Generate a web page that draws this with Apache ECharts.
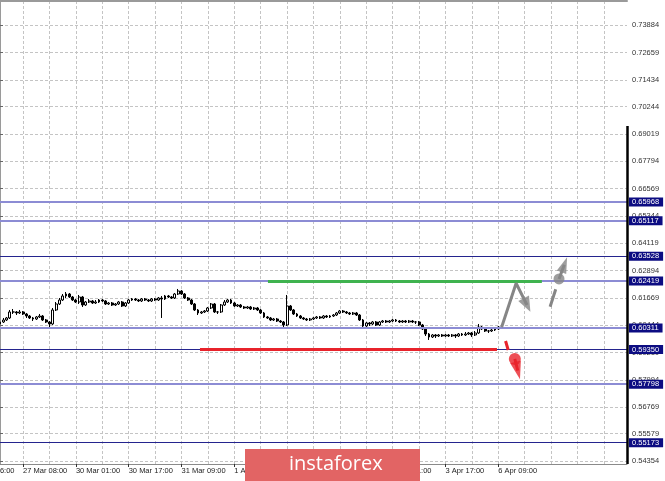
<!DOCTYPE html>
<html><head><meta charset="utf-8">
<script src="https://cdn.jsdelivr.net/npm/echarts@6/dist/echarts.min.js"></script>
<style>html,body{margin:0;padding:0;background:#fff}#c{width:665px;height:481px}</style>
</head><body><div id="c"></div>
<script>
// ---- time axis (H1 bars) ----
const xTimeLabels = ['27 Mar 08:00','30 Mar 01:00','30 Mar 17:00','31 Mar 09:00','1 Apr 01:00','1 Apr 17:00','2 Apr 09:00','3 Apr 01:00','3 Apr 17:00','6 Apr 09:00'];
const leadTimeLabel = '26 Mar 16:00';
const TOTAL_BARS = 191, FIRST_LABEL_BAR = 7, BARS_PER_LABEL = 16, BARS_PER_GRID = 8;

// ---- price axis ----
const yTickLabels = ['0.54354','0.55579','0.56769','0.57994','0.59219','0.60444','0.61669','0.62894','0.64119','0.65344','0.66569','0.67794','0.69019','0.70244','0.71434','0.72659','0.73884'];
const yMin = 0.54219, yMax = 0.74972;

// ---- candles (open / close / low / high) ----
const openPrices = [
0.60495,0.60584,0.60674,0.60764,0.61033,0.61033,0.60988,0.61033,0.60943,0.60853,
0.60764,0.60719,0.60809,0.60853,0.60674,0.60584,0.60495,0.61122,0.61391,0.61570,
0.61750,0.61839,0.61705,0.61570,0.61481,0.61705,0.61346,0.61481,0.61526,0.61436,
0.61481,0.61570,0.61526,0.61391,0.61436,0.61346,0.61391,0.61481,0.61302,0.61436,
0.61570,0.61615,0.61570,0.61526,0.61615,0.61570,0.61526,0.61615,0.61570,0.61660,
0.61615,0.61750,0.61705,0.61660,0.61839,0.61974,0.61839,0.61660,0.61570,0.61391,
0.61122,0.60988,0.61033,0.61077,0.61212,0.61391,0.61033,0.61033,0.61346,0.61481,
0.61570,0.61436,0.61302,0.61346,0.61257,0.61212,0.61257,0.61167,0.61212,0.61122,
0.60988,0.60809,0.60764,0.60674,0.60719,0.60629,0.60584,0.60450,0.61302,0.61122,
0.60943,0.60853,0.60764,0.60719,0.60674,0.60719,0.60764,0.60809,0.60764,0.60853,
0.60809,0.60853,0.60898,0.60988,0.61077,0.61033,0.60988,0.60943,0.60988,0.60898,
0.60674,0.60405,0.60540,0.60495,0.60584,0.60450,0.60584,0.60629,0.60584,0.60629,
0.60674,0.60629,0.60584,0.60629,0.60584,0.60629,0.60584,0.60584,0.60450,0.60271,
0.60046,0.59912,0.60002,0.59957,0.60002,0.59957,0.60002,0.59957,0.60002,0.59957,
0.60046,0.60002,0.60046,0.60091,0.60002,0.60091,0.60360,0.60271,0.60181,0.60181,
0.60226,0.60271];
const closePrices = [
0.60584,0.60674,0.60764,0.61033,0.61033,0.60988,0.61033,0.60943,0.60853,0.60764,
0.60719,0.60809,0.60853,0.60674,0.60584,0.60495,0.61122,0.61391,0.61570,0.61750,
0.61839,0.61705,0.61570,0.61481,0.61705,0.61346,0.61481,0.61526,0.61436,0.61481,
0.61570,0.61526,0.61391,0.61436,0.61346,0.61391,0.61481,0.61302,0.61436,0.61570,
0.61615,0.61570,0.61526,0.61615,0.61570,0.61526,0.61615,0.61570,0.61660,0.61615,
0.61750,0.61705,0.61660,0.61839,0.61974,0.61839,0.61660,0.61570,0.61391,0.61122,
0.60988,0.61033,0.61077,0.61212,0.61391,0.61033,0.61033,0.61346,0.61481,0.61570,
0.61436,0.61302,0.61346,0.61257,0.61212,0.61257,0.61167,0.61212,0.61122,0.60988,
0.60809,0.60764,0.60674,0.60719,0.60629,0.60584,0.60450,0.61302,0.61122,0.60943,
0.60853,0.60764,0.60719,0.60674,0.60719,0.60764,0.60809,0.60764,0.60853,0.60809,
0.60853,0.60898,0.60988,0.61077,0.61033,0.60988,0.60943,0.60988,0.60898,0.60674,
0.60405,0.60540,0.60495,0.60584,0.60450,0.60584,0.60629,0.60584,0.60629,0.60674,
0.60629,0.60584,0.60629,0.60584,0.60629,0.60584,0.60584,0.60450,0.60271,0.60046,
0.59912,0.60002,0.59957,0.60002,0.59957,0.60002,0.59957,0.60002,0.59957,0.60046,
0.60002,0.60046,0.60091,0.60002,0.60091,0.60360,0.60271,0.60181,0.60181,0.60226,
0.60271,0.60360];
const lowPrices = [
0.60405,0.60540,0.60629,0.60719,0.60943,0.60898,0.60943,0.60898,0.60764,0.60719,
0.60629,0.60674,0.60764,0.60629,0.60540,0.60315,0.60450,0.61077,0.61346,0.61526,
0.61660,0.61660,0.61526,0.61436,0.61391,0.61257,0.61302,0.61436,0.61391,0.61391,
0.61436,0.61481,0.61346,0.61346,0.61302,0.61302,0.61346,0.61257,0.61257,0.61391,
0.61526,0.61526,0.61481,0.61481,0.61526,0.61481,0.61481,0.61526,0.61526,0.60764,
0.61570,0.61660,0.61615,0.61615,0.61795,0.61795,0.61615,0.61526,0.61346,0.61077,
0.60898,0.60943,0.60988,0.61033,0.61167,0.60988,0.60943,0.60988,0.61302,0.61436,
0.61391,0.61257,0.61257,0.61212,0.61167,0.61167,0.61122,0.61122,0.61077,0.60943,
0.60764,0.60719,0.60629,0.60629,0.60584,0.60540,0.60315,0.60405,0.61077,0.60898,
0.60809,0.60719,0.60674,0.60629,0.60629,0.60674,0.60719,0.60719,0.60719,0.60764,
0.60764,0.60809,0.60853,0.60943,0.60988,0.60943,0.60898,0.60898,0.60853,0.60629,
0.60271,0.60360,0.60405,0.60450,0.60405,0.60405,0.60540,0.60540,0.60540,0.60584,
0.60584,0.60540,0.60540,0.60540,0.60540,0.60540,0.60495,0.60405,0.60226,0.59957,
0.59778,0.59867,0.59867,0.59912,0.59912,0.59912,0.59912,0.59912,0.59867,0.59912,
0.59957,0.59957,0.60002,0.59912,0.59957,0.60046,0.60226,0.60136,0.60091,0.60136,
0.60181,0.60226];
const highPrices = [
0.60674,0.60764,0.60809,0.61122,0.61167,0.61077,0.61122,0.61077,0.60988,0.60898,
0.60809,0.60853,0.60943,0.60898,0.60719,0.60629,0.61212,0.61481,0.61660,0.61839,
0.61929,0.61884,0.61750,0.61615,0.61795,0.61750,0.61526,0.61615,0.61570,0.61570,
0.61615,0.61615,0.61570,0.61481,0.61481,0.61436,0.61526,0.61526,0.61481,0.61615,
0.61660,0.61660,0.61615,0.61660,0.61660,0.61615,0.61660,0.61660,0.61705,0.61750,
0.61795,0.61795,0.61750,0.61884,0.62064,0.62019,0.61884,0.61705,0.61615,0.61436,
0.61167,0.61077,0.61122,0.61257,0.61436,0.61436,0.61077,0.61391,0.61570,0.61615,
0.61615,0.61481,0.61391,0.61391,0.61302,0.61302,0.61302,0.61257,0.61257,0.61167,
0.61033,0.60853,0.60809,0.60764,0.60764,0.60674,0.60629,0.61795,0.61346,0.61167,
0.60988,0.60898,0.60809,0.60764,0.60764,0.60809,0.60853,0.60853,0.60898,0.60898,
0.60898,0.60943,0.61033,0.61122,0.61122,0.61077,0.61033,0.61033,0.61033,0.60943,
0.60719,0.60584,0.60584,0.60629,0.60629,0.60629,0.60674,0.60674,0.60674,0.60719,
0.60719,0.60674,0.60674,0.60674,0.60674,0.60674,0.60629,0.60629,0.60495,0.60315,
0.60091,0.60046,0.60046,0.60046,0.60046,0.60046,0.60046,0.60046,0.60046,0.60091,
0.60091,0.60136,0.60136,0.60136,0.60181,0.60495,0.60405,0.60315,0.60226,0.60271,
0.60315,0.60405];

// ---- horizontal levels ----
const lightLevels = [0.65968, 0.65117, 0.62419, 0.60311, 0.57798];
const darkLevels = [0.63528, 0.59350, 0.55173];
const buyZone = {from: 81.2, to: 164.2, price: 0.62419};   // green
const sellZone = {from: 60.6, to: 150.6, price: 0.59350};  // red
const axisMarkFrom = 0.6937;

// ---- forecast arrows (bar index, price) ----
const upPath = [[152.0, 0.60347], [156.4, 0.62319], [159.7, 0.61346]];
const upDash = [[166.7, 0.61270], [168.4, 0.62050]];
const upPin = [[169.4, 0.62512], [171.0, 0.63148]];
const downDash = [[153.2, 0.59733], [154.0, 0.59329]];
const downPin = [[156.0, 0.58926], [156.9, 0.58406]];

const categories = [];
for (let i = 0; i < TOTAL_BARS; i++) categories.push('');
xTimeLabels.forEach((t, k) => { categories[FIRST_LABEL_BAR + k * BARS_PER_LABEL] = t; });
const candles = openPrices.map((o, i) => [o, closePrices[i], lowPrices[i], highPrices[i]]);
const yTickValues = yTickLabels.map(Number);

const FONT = 'Liberation Sans';
const GREY = '#868686', RED = '#e8232b';

function seg(data, color) {
  return {type: 'line', xAxisIndex: 1, data: data, symbol: 'none', silent: true,
    lineStyle: {color: color, width: 3}, z: 5};
}

const chart = echarts.init(document.getElementById('c'), null, {renderer: 'canvas'});
const option = {
  animation: false,
  backgroundColor: '#fff',
  grid: {left: 0, right: 38, top: 1, bottom: 17},
  xAxis: [{
    type: 'category', data: categories, boundaryGap: false, position: 'bottom',
    axisLine: {lineStyle: {color: '#8a8a8a', width: 1}},
    axisTick: {interval: (i, v) => v !== '', length: 3, lineStyle: {color: '#333'}},
    axisLabel: {interval: (i, v) => v !== '', align: 'left', margin: 3, fontSize: 7.5, fontFamily: FONT, color: '#222'},
    splitLine: {show: true, interval: (i) => (i - FIRST_LABEL_BAR) % BARS_PER_GRID === 0,
      lineStyle: {type: [3, 2], color: '#c4c4c4', width: 1}}
  }, {
    type: 'value', min: 0, max: TOTAL_BARS - 1, position: 'top',
    axisLine: {show: true, lineStyle: {color: '#9a9a9a', width: 2}},
    axisTick: {show: false}, axisLabel: {show: false}, splitLine: {show: false}
  }],
  yAxis: [{
    type: 'value', position: 'right', min: yMin, max: yMax,
    axisLine: {show: true, lineStyle: {color: '#9a9a9a', width: 1}},
    axisTick: {show: true, customValues: yTickValues, length: 3, lineStyle: {color: '#666'}},
    axisLabel: {customValues: yTickValues, formatter: v => v.toFixed(5), margin: 5, fontSize: 7.5, fontFamily: FONT, color: '#333'},
    splitLine: {show: true, lineStyle: {type: [3, 2], color: '#c4c4c4', width: 1}}
  }],
  series: [
    {
      type: 'line', name: 'levels', xAxisIndex: 1, data: [], silent: true,
      markLine: {
        silent: true, symbol: 'none', animation: false, precision: 5,
        label: {show: true, position: 'end', distance: 2, formatter: p => Number(p.value).toFixed(5),
          color: '#fff', backgroundColor: '#0c0c82', padding: [1, 4, 0, 3], fontSize: 7.5, fontFamily: FONT},
        data: [
          ...lightLevels.map(v => ({yAxis: v, lineStyle: {color: '#8c8cd4', width: 2, type: 'solid'}})),
          ...darkLevels.map(v => ({yAxis: v, lineStyle: {color: '#24248e', width: 1, type: 'solid'}})),
          [{coord: [TOTAL_BARS - 1, axisMarkFrom], label: {show: false}, lineStyle: {color: '#000', width: 2.5, type: 'solid'}},
           {coord: [TOTAL_BARS - 1, yMin]}]
        ]
      }
    },
    {
      type: 'line', name: 'zones', xAxisIndex: 1, data: [], silent: true,
      markLine: {
        silent: true, symbol: 'none', label: {show: false}, precision: 5,
        data: [
          [{coord: [buyZone.from, buyZone.price], lineStyle: {color: '#3fb34f', width: 3, type: 'solid'}}, {coord: [buyZone.to, buyZone.price]}],
          [{coord: [sellZone.from, sellZone.price], lineStyle: {color: RED, width: 3, type: 'solid'}}, {coord: [sellZone.to, sellZone.price]}]
        ]
      }
    },
    {
      type: 'candlestick', name: 'price', xAxisIndex: 0, data: candles, barWidth: 2.4,
      itemStyle: {color: '#ffffff', color0: '#000000', borderColor: '#000000', borderColor0: '#000000', borderWidth: 1}
    },
    seg(upPath, GREY),
    seg(upDash, GREY),
    seg(upPin, GREY),
    seg(downDash, RED),
    seg(downPin, RED),
    {type: 'scatter', id: 'pins', xAxisIndex: 1, silent: true, z: 6,
      data: [
        {value: upPin[0], symbol: 'circle', symbolSize: 11, itemStyle: {color: GREY}},
        {value: downPin[0], symbol: 'circle', symbolSize: 12, itemStyle: {color: RED}}
      ]},
    {type: 'scatter', id: 'heads', xAxisIndex: 1, silent: true, z: 6, data: []}
  ]
};
chart.setOption(option);

// arrowheads: rotate each triangle along its segment direction (screen space)
function heading(from, to) {
  const a = chart.convertToPixel({xAxisIndex: 1, yAxisIndex: 0}, from);
  const b = chart.convertToPixel({xAxisIndex: 1, yAxisIndex: 0}, to);
  return Math.atan2(-(b[0] - a[0]), -(b[1] - a[1])) * 180 / Math.PI;
}
const heads = [
  {value: upPath[2], symbol: 'triangle', symbolSize: [12, 15], symbolRotate: heading(upPath[1], upPath[2]), itemStyle: {color: GREY}},
  {value: upPin[1], symbol: 'triangle', symbolSize: [10, 16], symbolRotate: heading(upPin[0], upPin[1]), itemStyle: {color: GREY}},
  {value: downPin[1], symbol: 'triangle', symbolSize: [11, 18], symbolRotate: heading(downPin[0], downPin[1]), itemStyle: {color: RED}}
];

const leadX = chart.convertToPixel({xAxisIndex: 1}, FIRST_LABEL_BAR - BARS_PER_LABEL);
const axisY = chart.convertToPixel({yAxisIndex: 0}, yMin);
chart.setOption({
  series: [{id: 'heads', data: heads}],
  graphic: [
    {type: 'text', left: leadX, top: axisY + 3, z: 50,
      style: {text: leadTimeLabel, fontSize: 7.5, fontFamily: FONT, fill: '#222'}},
    {type: 'rect', left: 245, top: 449, z: 100, shape: {width: 175, height: 32}, style: {fill: '#e26464'}},
    {type: 'text', left: 289, top: 454, z: 101,
      style: {text: 'instaforex', fontSize: 20, fontFamily: 'Open Sans', fill: '#ffffff'}}
  ]
});
</script>
</body></html>
